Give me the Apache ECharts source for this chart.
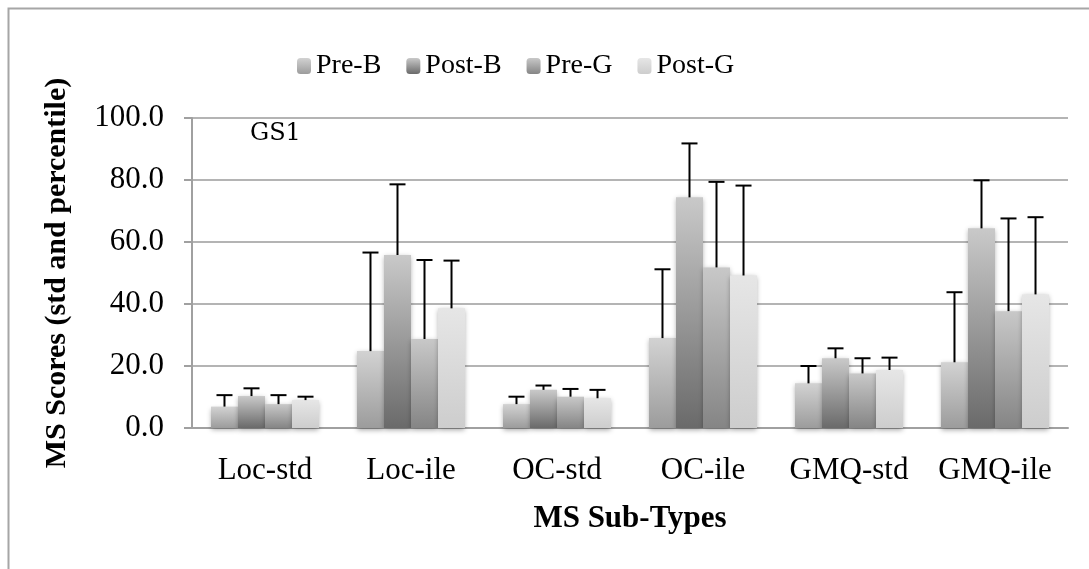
<!DOCTYPE html>
<html>
<head>
<meta charset="utf-8">
<script src="https://cdn.jsdelivr.net/npm/echarts@6/dist/echarts.min.js"></script>
<style>
  html, body { margin: 0; padding: 0; background: #fff; }
  #main { width: 1089px; height: 569px; }
</style>
</head>
<body>
<div id="main"></div>
<script>
// 分类
const categories = ['Loc-std', 'Loc-ile', 'OC-std', 'OC-ile', 'GMQ-std', 'GMQ-ile']
const seriesNames = ['Pre-B', 'Post-B', 'Pre-G', 'Post-G']

// 均值
const preB = [6.9, 24.8, 7.7, 29.0, 14.4, 21.2]
const postB = [10.3, 55.8, 12.3, 74.4, 22.5, 64.4]
const preG = [7.7, 28.7, 10.1, 51.8, 17.6, 37.7]
const postG = [9.0, 38.6, 9.6, 49.2, 18.7, 43.1]

// 误差（只画上半部分）
const preBErr = [3.7, 31.8, 2.4, 22.2, 5.6, 22.6]
const postBErr = [2.5, 22.8, 1.4, 17.4, 3.2, 15.5]
const preGErr = [2.9, 25.5, 2.5, 27.6, 4.9, 29.9]
const postGErr = [1.1, 15.4, 2.7, 29.0, 4.0, 24.9]

const yTicks = [0, 20, 40, 60, 80, 100]

const means = [preB, postB, preG, postG]
const errs = [preBErr, postBErr, preGErr, postGErr]

// 渐变色 [顶部, 底部]
const colors = [
  ['#d2d2d2', '#9c9c9c'],
  ['#c9c9c9', '#6a6a6a'],
  ['#c8c8c8', '#858585'],
  ['#e6e6e6', '#cdcdcd']
]
const font = 'Liberation Serif'
const groupRatio = 0.74 // 1 - barCategoryGap

const myChart = echarts.init(document.querySelector('#main'))

const grad = (c) => new echarts.graphic.LinearGradient(0, 0, 0, 1, [
  { offset: 0, color: c[0] },
  { offset: 1, color: c[1] }
])

const barSeries = means.map((data, i) => ({
  name: seriesNames[i],
  type: 'bar',
  data: data,
  barGap: '0%',
  barCategoryGap: '26%',
  itemStyle: {
    color: grad(colors[i]),
    shadowBlur: 5,
    shadowColor: 'rgba(0,0,0,0.35)',
    shadowOffsetY: 2
  }
}))

// 误差线
const errSeries = means.map((data, i) => ({
  name: seriesNames[i] + '-err',
  type: 'custom',
  z: 5,
  data: data.map((v, k) => [k, v, v + errs[i][k]]),
  renderItem: (params, api) => {
    const band = api.size([1, 0])[0]
    const barW = band * groupRatio / 4
    const base = api.coord([api.value(0), api.value(1)])
    const top = api.coord([api.value(0), api.value(2)])
    const x = base[0] - band * groupRatio / 2 + barW * (i + 0.5)
    const half = 8
    const style = { stroke: '#000', lineWidth: 2 }
    return {
      type: 'group',
      children: [
        { type: 'line', shape: { x1: x, y1: base[1], x2: x, y2: top[1] }, style },
        { type: 'line', shape: { x1: x - half, y1: top[1], x2: x + half, y2: top[1] }, style }
      ]
    }
  }
}))

const option = {
  animation: false,
  backgroundColor: '#fff',
  textStyle: { fontFamily: font },
  grid: { left: 192, right: 21, top: 118, bottom: 141 },
  legend: {
    data: seriesNames,
    top: 47,
    left: 292,
    itemWidth: 14,
    itemHeight: 16,
    itemGap: 25,
    textStyle: { fontFamily: font, fontSize: 28, color: '#000' }
  },
  title: {
    text: 'GS1',
    left: 250,
    top: 122,
    padding: 0,
    textStyle: { fontFamily: 'DejaVu Serif', fontSize: 24, fontWeight: 'normal', color: '#000' }
  },
  graphic: [
    {
      type: 'rect',
      left: 6,
      top: 6,
      shape: { width: 1200, height: 700 },
      style: { fill: 'none', stroke: '#a6a6a6', lineWidth: 2 }
    }
  ],
  xAxis: {
    type: 'category',
    data: categories,
    name: 'MS Sub-Types',
    nameLocation: 'middle',
    nameGap: 75,
    nameTextStyle: { fontFamily: font, fontSize: 31, fontWeight: 'bold', color: '#000' },
    axisLine: { lineStyle: { color: '#a0a0a0', width: 2 } },
    axisTick: { length: 8, lineStyle: { color: '#a0a0a0', width: 2 } },
    axisLabel: { fontFamily: font, fontSize: 31, color: '#000', margin: 27, interval: 0 }
  },
  yAxis: {
    type: 'value',
    min: 0,
    max: 100,
    interval: 20,
    name: 'MS Scores (std and percentile)',
    nameLocation: 'middle',
    nameGap: 120,
    nameTextStyle: { fontFamily: font, fontSize: 30, fontWeight: 'bold', color: '#000' },
    axisLine: { show: true, lineStyle: { color: '#a0a0a0', width: 2 } },
    axisTick: { show: true, length: 8, lineStyle: { color: '#a0a0a0', width: 2 } },
    splitLine: { lineStyle: { color: '#b4b4b4', width: 2 } },
    axisLabel: {
      fontFamily: font,
      fontSize: 31,
      color: '#000',
      margin: 28,
      formatter: v => yTicks.includes(v) ? v.toFixed(1) : ''
    }
  },
  series: [...barSeries, ...errSeries]
}

myChart.setOption(option)
</script>
</body>
</html>
